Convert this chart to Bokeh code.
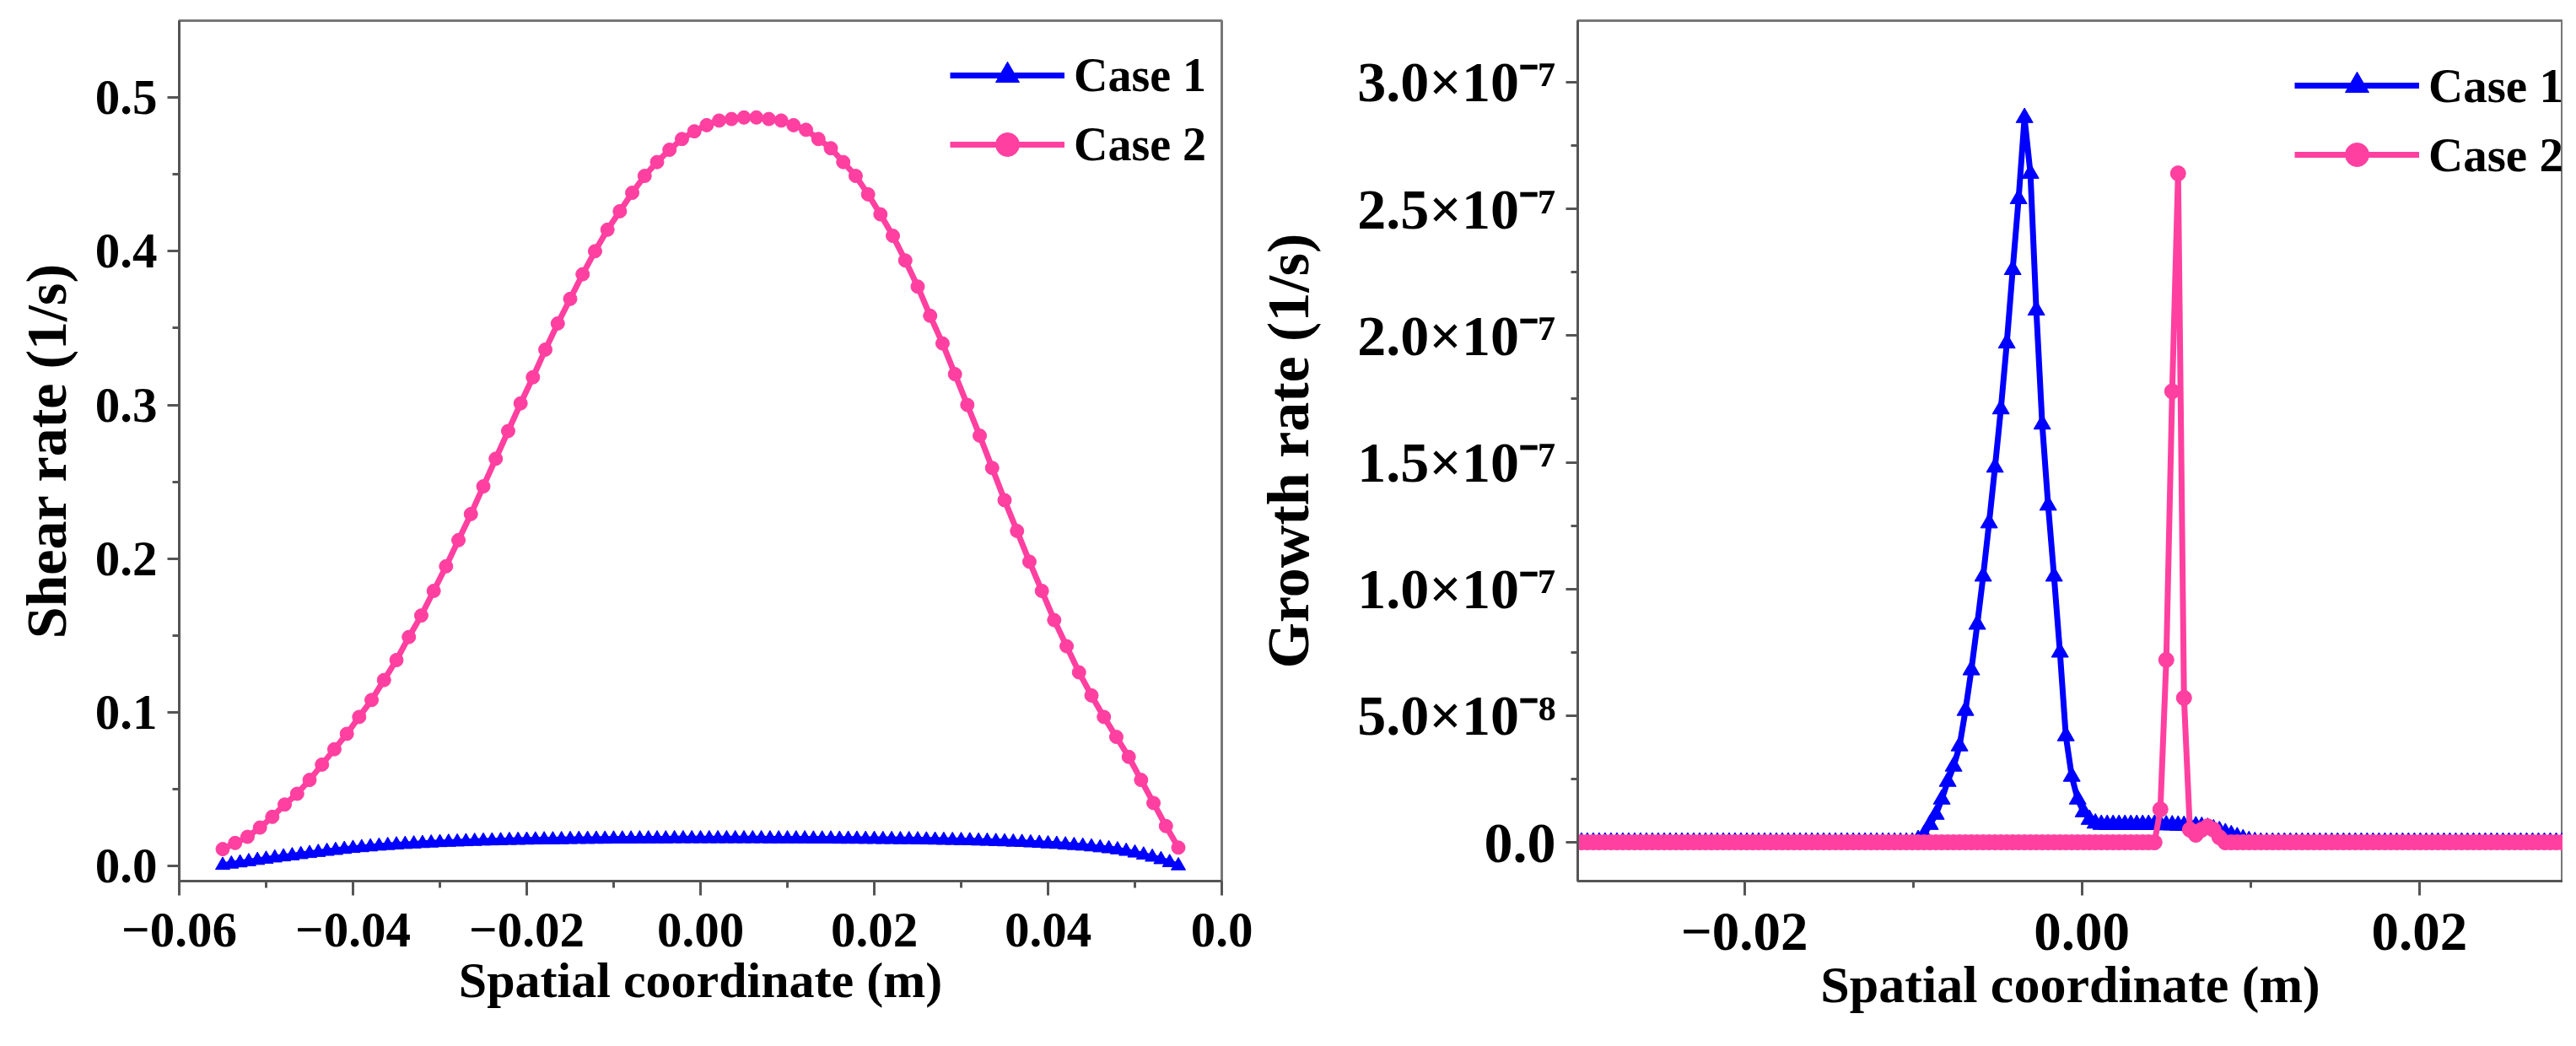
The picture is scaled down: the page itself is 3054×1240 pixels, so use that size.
import numpy as np
from bokeh.plotting import figure
from bokeh.models import (Range1d, FixedTicker, CustomJSTickFormatter, Legend,
                          LegendItem)
from bokeh.layouts import row
from bokeh.embed import file_html
from bokeh.resources import INLINE

# ---------------- data: left panel (shear rate) ----------------
shear_case1_x = np.round(np.linspace(-0.055, 0.055, 111), 4)
shear_case1_y = [
    0.0005, 0.0013, 0.0021, 0.0029, 0.0037, 0.0045, 0.0053, 0.0060, 0.0067, 0.0075, 0.0082,
    0.0089, 0.0096, 0.0102, 0.0109, 0.0115, 0.0120, 0.0125, 0.0130, 0.0134, 0.0138,
    0.0141, 0.0144, 0.0147, 0.0150, 0.0153, 0.0155, 0.0157, 0.0159, 0.0161, 0.0163,
    0.0164, 0.0165, 0.0167, 0.0168, 0.0169, 0.0170, 0.0171, 0.0171, 0.0172, 0.0173,
    0.0174, 0.0174, 0.0175, 0.0175, 0.0176, 0.0176, 0.0176, 0.0177, 0.0177, 0.0177,
    0.0177, 0.0178, 0.0178, 0.0178, 0.0178, 0.0178, 0.0178, 0.0178, 0.0178, 0.0178,
    0.0178, 0.0178, 0.0177, 0.0177, 0.0177, 0.0177, 0.0177, 0.0176, 0.0176, 0.0176,
    0.0175, 0.0175, 0.0175, 0.0174, 0.0174, 0.0173, 0.0173, 0.0172, 0.0172, 0.0171,
    0.0170, 0.0169, 0.0168, 0.0167, 0.0166, 0.0165, 0.0163, 0.0162, 0.0160, 0.0158,
    0.0156, 0.0154, 0.0151, 0.0148, 0.0145, 0.0142, 0.0138, 0.0134, 0.0130, 0.0125,
    0.0119, 0.0113, 0.0106, 0.0096, 0.0085, 0.0072, 0.0058, 0.0042, 0.0023, 0.0002,
]
shear_case2_x = np.round(np.linspace(-0.055, 0.055, 78), 5)
shear_case2_y = [
    0.011, 0.015, 0.019, 0.025, 0.032, 0.040, 0.047, 0.056, 0.066, 0.076,
    0.086, 0.097, 0.108, 0.121, 0.134, 0.149, 0.163, 0.179, 0.195, 0.212,
    0.229, 0.247, 0.265, 0.283, 0.301, 0.318, 0.336, 0.353, 0.369, 0.385,
    0.400, 0.414, 0.426, 0.438, 0.449, 0.458, 0.466, 0.473, 0.478, 0.482,
    0.485, 0.486, 0.487, 0.487, 0.486, 0.485, 0.482, 0.479, 0.473, 0.467,
    0.458, 0.449, 0.437, 0.424, 0.410, 0.394, 0.377, 0.358, 0.340, 0.320,
    0.300, 0.280, 0.259, 0.238, 0.218, 0.198, 0.179, 0.160, 0.143, 0.126,
    0.111, 0.097, 0.084, 0.071, 0.056, 0.041, 0.026, 0.012,
]

# ---------------- data: right panel (growth rate), values in 1e-7 1/s ----------------
growth_x = np.round(-0.0034 + 0.00035 * np.arange(-76, 93), 5)
growth_case1_e7 = (
    [0.0] * 58
    + [0.01, 0.03, 0.07, 0.11, 0.17, 0.24, 0.30, 0.38, 0.52, 0.68,
       0.86, 1.05, 1.26, 1.48, 1.71, 1.97, 2.26, 2.54]
    + [2.86]
    + [2.64, 2.10, 1.65, 1.33, 1.05, 0.75, 0.42, 0.26, 0.17, 0.12, 0.09, 0.075]
    + [0.07, 0.07, 0.07, 0.07, 0.07, 0.07, 0.07, 0.07, 0.07, 0.07,
       0.07, 0.068, 0.068, 0.067, 0.066, 0.065, 0.064, 0.062, 0.058]
    + [0.052, 0.045, 0.037, 0.029, 0.021, 0.013, 0.006, 0.002]
    + [0.0] * 53
)
growth_case2_e7 = (
    [0.0] * 99
    + [0.13, 0.72, 1.78, 2.64, 0.57, 0.05, 0.03, 0.05, 0.063, 0.05, 0.02]
    + [0.0] * 59
)
growth_case1_y = [v * 1e-7 for v in growth_case1_e7]
growth_case2_y = [v * 1e-7 for v in growth_case2_e7]

# ---------------- ticks (last left label is cut to "0.0" in the source image) ----------------
x1_ticks = [-0.06, -0.04, -0.02, 0.0, 0.02, 0.04, 0.06]
x1_labels = ["\u22120.06", "\u22120.04", "\u22120.02", "0.00", "0.02", "0.04", "0.0"]
x1_minor = [-0.05, -0.03, -0.01, 0.01, 0.03, 0.05]
y1_ticks = [0.0, 0.1, 0.2, 0.3, 0.4, 0.5]
y1_labels = ["0.0", "0.1", "0.2", "0.3", "0.4", "0.5"]
y1_minor = [0.05, 0.15, 0.25, 0.35, 0.45]
x2_ticks = [-0.02, 0.0, 0.02]
x2_labels = ["\u22120.02", "0.00", "0.02"]
x2_minor = [-0.03, -0.01, 0.01]
y2_ticks = [0.0, 5e-8, 1e-7, 1.5e-7, 2e-7, 2.5e-7, 3e-7]
y2_labels = ["0.0", "5.0\u00d710\u207b\u2078", "1.0\u00d710\u207b\u2077", "1.5\u00d710\u207b\u2077",
             "2.0\u00d710\u207b\u2077", "2.5\u00d710\u207b\u2077", "3.0\u00d710\u207b\u2077"]
y2_minor = [2.5e-8, 7.5e-8, 1.25e-7, 1.75e-7, 2.25e-7, 2.75e-7]

series_names = ["Case 1", "Case 2"]
xlabel = "Spatial coordinate (m)"
ylabel_left = "Shear rate (1/s)"
ylabel_right = "Growth rate (1/s)"

FONT = "Liberation Serif"
BLUE = "#0000FF"
PINK = "#FF40A0"
AXIS_COLOR = "#555555"

LABEL_CODE = """
let best = 0, bd = Infinity;
for (let i = 0; i < tk.length; i++) {
  const d = Math.abs(tk[i] - tick);
  if (d < bd) { bd = d; best = i; }
}
return lb[best];
"""


def fmt(ticks, labels):
    return CustomJSTickFormatter(args=dict(tk=ticks, lb=labels), code=LABEL_CODE)


def style(p, xt, xl, xm, yt, yl, ym, ylab, xtick_fs, ytick_fs, xlab_fs, ylab_fs,
          x_standoff, xlab_standoff, ylab_standoff):
    p.xgrid.visible = False
    p.ygrid.visible = False
    p.outline_line_color = "#777777"
    p.outline_line_width = 3
    p.xaxis.ticker = FixedTicker(ticks=xt, minor_ticks=xm)
    p.yaxis.ticker = FixedTicker(ticks=yt, minor_ticks=ym)
    p.xaxis.formatter = fmt(xt, xl)
    p.yaxis.formatter = fmt(yt, yl)
    for ax in (p.xaxis[0], p.yaxis[0]):
        ax.axis_line_color = AXIS_COLOR
        ax.axis_line_width = 3
        ax.major_tick_line_color = AXIS_COLOR
        ax.major_tick_line_width = 3
        ax.minor_tick_line_color = AXIS_COLOR
        ax.minor_tick_line_width = 3
        ax.major_tick_in = 0
        ax.minor_tick_in = 0
        ax.major_label_text_font = FONT
        ax.major_label_text_font_style = "bold"
        ax.major_label_text_color = "black"
        ax.axis_label_text_font = FONT
        ax.axis_label_text_font_style = "bold"
        ax.axis_label_text_color = "black"
    p.xaxis.major_label_text_font_size = xtick_fs
    p.yaxis.major_label_text_font_size = ytick_fs
    p.xaxis.major_tick_out = 17
    p.xaxis.minor_tick_out = 8
    p.yaxis.major_tick_out = 14
    p.yaxis.minor_tick_out = 8
    p.xaxis.major_label_standoff = x_standoff
    p.yaxis.major_label_standoff = 12
    p.xaxis.axis_label = xlabel
    p.xaxis.axis_label_text_font_size = xlab_fs
    p.xaxis.axis_label_standoff = xlab_standoff
    p.yaxis.axis_label = ylab
    p.yaxis.axis_label_text_font_size = ylab_fs
    p.yaxis.axis_label_standoff = ylab_standoff


def add_legend(p, items, loc, glyph_w, fs):
    lg = Legend(items=items, location=loc)
    lg.background_fill_alpha = 0
    lg.border_line_color = None
    lg.label_text_font = FONT
    lg.label_text_font_style = "bold"
    lg.label_text_font_size = fs
    lg.label_text_color = "black"
    lg.glyph_width = glyph_w
    lg.glyph_height = 70
    lg.label_height = 70
    lg.label_standoff = 11
    lg.spacing = 12
    lg.padding = 10
    lg.margin = 0
    p.add_layout(lg)


# ---------------- left figure ----------------
p1 = figure(output_backend="svg", toolbar_location=None,
            width=1486, height=1224,
            min_border_left=212, min_border_right=38, min_border_top=24, min_border_bottom=172,
            x_range=Range1d(-0.06, 0.06), y_range=Range1d(-0.0098, 0.55),
            background_fill_color="white", border_fill_color="white")
style(p1, x1_ticks, x1_labels, x1_minor, y1_ticks, y1_labels, y1_minor,
      ylabel_left, "59px", "59px", "60px", "68px", 21, 4, 17)

l1 = p1.line(shear_case1_x, shear_case1_y, line_color=BLUE, line_width=7)
s1 = p1.scatter(shear_case1_x, shear_case1_y, marker="triangle", size=17,
                fill_color=BLUE, line_color=BLUE)
l2 = p1.line(shear_case2_x, shear_case2_y, line_color=PINK, line_width=7)
s2 = p1.scatter(shear_case2_x, shear_case2_y, marker="circle", size=16,
                fill_color=PINK, line_color=PINK)
add_legend(p1, [LegendItem(label=series_names[0], renderers=[l1, s1]),
                LegendItem(label=series_names[1], renderers=[l2, s2])],
           (914, 838), 136, "56px")

# ---------------- right figure ----------------
p2 = figure(output_backend="svg", toolbar_location=None,
            width=1552, height=1224,
            min_border_left=351, min_border_right=0, min_border_top=22, min_border_bottom=180,
            x_range=Range1d(-0.02987, 0.0285), y_range=Range1d(-0.153e-7, 3.243e-7),
            background_fill_color="white", border_fill_color="white")
style(p2, x2_ticks, x2_labels, x2_minor, y2_ticks, y2_labels, y2_minor,
      ylabel_right, "65px", "68px", "62px", "70px", 21, 4, 40)

m1 = p2.line(growth_x, growth_case1_y, line_color=BLUE, line_width=7)
t1 = p2.scatter(growth_x, growth_case1_y, marker="triangle", size=20,
                fill_color=BLUE, line_color=BLUE)
m2 = p2.line(growth_x, growth_case2_y, line_color=PINK, line_width=7)
t2 = p2.scatter(growth_x, growth_case2_y, marker="circle", size=18,
                fill_color=PINK, line_color=PINK)
add_legend(p2, [LegendItem(label=series_names[0], renderers=[m1, t1]),
                LegendItem(label=series_names[1], renderers=[m2, t2])],
           (850, 826), 148, "57px")

layout = row(p1, p2, spacing=0)
open("out.html", "w").write(file_html(layout, INLINE))
